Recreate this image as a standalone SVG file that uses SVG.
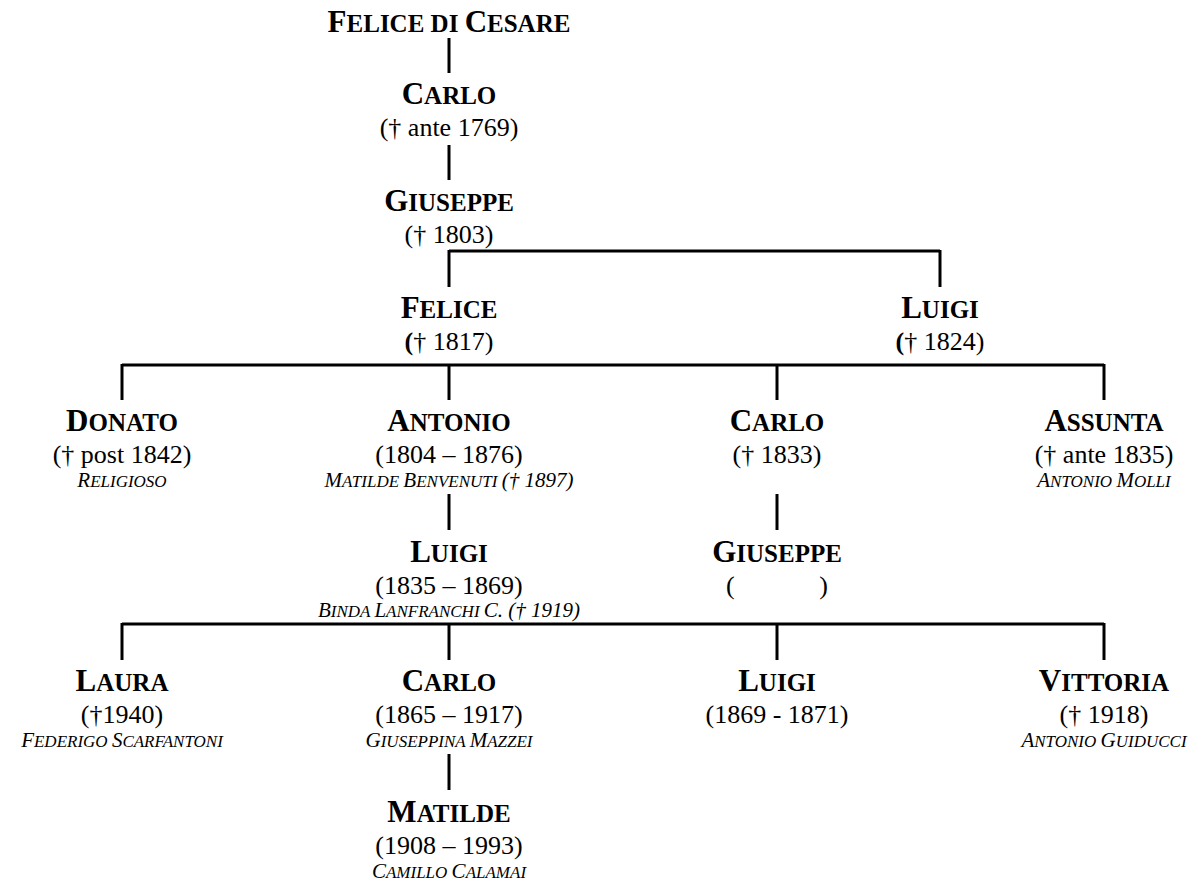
<svg xmlns="http://www.w3.org/2000/svg" width="1203" height="891" viewBox="0 0 1203 891">
<style>
text{font-family:"Liberation Serif","Times New Roman",serif;text-anchor:middle;fill:#000}
.n{font-weight:bold;font-size:31px}
.n .s{font-size:25px}
.d{font-size:26px}
.i{font-style:italic;font-size:21px}
.i .s{font-size:17px}
.b{font-weight:bold}
#connectors line{stroke:#000;stroke-width:3}
</style>
<rect width="1203" height="891" fill="#fff"/>
<g id="connectors">
<line x1="449" y1="38" x2="449" y2="73"/>
<line x1="449" y1="145" x2="449" y2="180"/>
<line x1="449" y1="251" x2="940" y2="251"/>
<line x1="449" y1="250" x2="449" y2="287"/>
<line x1="940" y1="250" x2="940" y2="287"/>
<line x1="122" y1="365" x2="1104" y2="365"/>
<line x1="122" y1="364" x2="122" y2="400"/>
<line x1="449" y1="364" x2="449" y2="400"/>
<line x1="777" y1="364" x2="777" y2="400"/>
<line x1="1104" y1="364" x2="1104" y2="400"/>
<line x1="449" y1="494" x2="449" y2="530"/>
<line x1="777" y1="494" x2="777" y2="530"/>
<line x1="122" y1="624" x2="1104" y2="624"/>
<line x1="122" y1="623" x2="122" y2="660"/>
<line x1="449" y1="623" x2="449" y2="660"/>
<line x1="777" y1="623" x2="777" y2="660"/>
<line x1="1104" y1="623" x2="1104" y2="660"/>
<line x1="449" y1="754" x2="449" y2="790"/>
</g>
<g id="felice-di-cesare"><text class="n" x="449" y="32">F<tspan class="s">ELICE DI </tspan>C<tspan class="s">ESARE</tspan></text></g>
<g id="carlo-1769"><text class="n" x="449" y="104">C<tspan class="s">ARLO</tspan></text><text class="d" x="449" y="136">(† ante 1769)</text></g>
<g id="giuseppe-1803"><text class="n" x="449" y="211">G<tspan class="s">IUSEPPE</tspan></text><text class="d" x="449" y="243">(† 1803)</text></g>
<g id="felice-1817"><text class="n" x="449" y="318">F<tspan class="s">ELICE</tspan></text><text class="d" x="449" y="350"><tspan class="b">(</tspan>† 1817)</text></g>
<g id="luigi-1824"><text class="n" x="940" y="318">L<tspan class="s">UIGI</tspan></text><text class="d" x="940" y="350"><tspan class="b">(</tspan>† 1824)</text></g>
<g id="donato"><text class="n" x="122" y="431">D<tspan class="s">ONATO</tspan></text><text class="d" x="122" y="463">(† post 1842)</text><text class="i" x="122" y="487">R<tspan class="s">ELIGIOSO</tspan></text></g>
<g id="antonio"><text class="n" x="449" y="431">A<tspan class="s">NTONIO</tspan></text><text class="d" x="449" y="463">(1804 – 1876)</text><text class="i" x="449" y="487">M<tspan class="s">ATILDE </tspan>B<tspan class="s">ENVENUTI </tspan>(† 1897)</text></g>
<g id="carlo-1833"><text class="n" x="777" y="431">C<tspan class="s">ARLO</tspan></text><text class="d" x="777" y="463">(† 1833)</text></g>
<g id="assunta"><text class="n" x="1104" y="431">A<tspan class="s">SSUNTA</tspan></text><text class="d" x="1104" y="463">(† ante 1835)</text><text class="i" x="1104" y="487">A<tspan class="s">NTONIO </tspan>M<tspan class="s">OLLI</tspan></text></g>
<g id="luigi-1835"><text class="n" x="449" y="562">L<tspan class="s">UIGI</tspan></text><text class="d" x="449" y="594">(1835 – 1869)</text><text class="i" x="449" y="617">B<tspan class="s">INDA </tspan>L<tspan class="s">ANFRANCHI </tspan>C. († 1919)</text></g>
<g id="giuseppe"><text class="n" x="777" y="562">G<tspan class="s">IUSEPPE</tspan></text><text class="d" x="777" y="594" xml:space="preserve">(             )</text></g>
<g id="laura"><text class="n" x="122" y="691">L<tspan class="s">AURA</tspan></text><text class="d" x="122" y="723">(†1940)</text><text class="i" x="122" y="747">F<tspan class="s">EDERIGO </tspan>S<tspan class="s">CARFANTONI</tspan></text></g>
<g id="carlo-1865"><text class="n" x="449" y="691">C<tspan class="s">ARLO</tspan></text><text class="d" x="449" y="723">(1865 – 1917)</text><text class="i" x="449" y="747">G<tspan class="s">IUSEPPINA </tspan>M<tspan class="s">AZZEI</tspan></text></g>
<g id="luigi-1869"><text class="n" x="777" y="691">L<tspan class="s">UIGI</tspan></text><text class="d" x="777" y="723">(1869 - 1871)</text></g>
<g id="vittoria"><text class="n" x="1104" y="691">V<tspan class="s">ITTORIA</tspan></text><text class="d" x="1104" y="723">(† 1918)</text><text class="i" x="1104" y="747">A<tspan class="s">NTONIO </tspan>G<tspan class="s">UIDUCCI</tspan></text></g>
<g id="matilde"><text class="n" x="449" y="822">M<tspan class="s">ATILDE</tspan></text><text class="d" x="449" y="854">(1908 – 1993)</text><text class="i" x="449" y="878">C<tspan class="s">AMILLO </tspan>C<tspan class="s">ALAMAI</tspan></text></g>
</svg>
